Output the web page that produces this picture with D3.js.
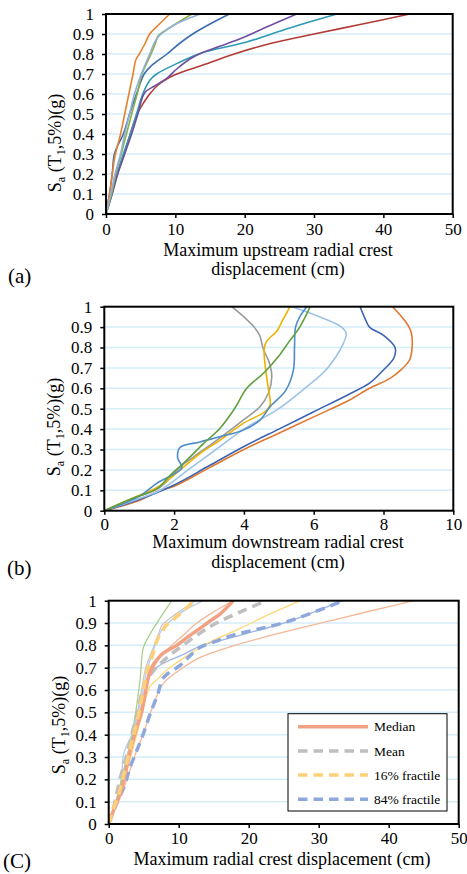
<!DOCTYPE html>
<html>
<head>
<meta charset="utf-8">
<script src="https://cdn.jsdelivr.net/npm/d3@7/dist/d3.min.js"></script>
<style>
  body { margin: 0; background: #fff; }
  svg text { font-family: "Liberation Serif", "Times New Roman", serif; fill: #000; }
</style>
</head>
<body>
<svg id="chart" width="467" height="874"></svg>
<script>
// tick values / labels
var yTicks = [0, 0.1, 0.2, 0.3, 0.4, 0.5, 0.6, 0.7, 0.8, 0.9, 1];
var yTickLabels = ["0", "0.1", "0.2", "0.3", "0.4", "0.5", "0.6", "0.7", "0.8", "0.9", "1"];
var xTicksA = [0, 10, 20, 30, 40, 50];
var xTicksB = [0, 2, 4, 6, 8, 10];
var xTicksC = [0, 10, 20, 30, 40, 50];

// (a) upstream radial crest displacement, [cm, Sa]
var aRed = [[0,0],[0.67,0.1],[1.6,0.2],[2.6,0.3],[3.5,0.4],[4.5,0.5],[5.5,0.56],[6.3,0.6],[7.5,0.645],[9,0.68],[11,0.71],[14,0.745],[18.5,0.8],[24,0.855],[30,0.9],[37,0.95],[43.8,1.0]];
var aTeal = [[0,0],[0.85,0.1],[1.6,0.2],[2.5,0.3],[3.5,0.4],[4.4,0.5],[5.3,0.6],[6.35,0.67],[7.3,0.7],[10.7,0.76],[13.6,0.803],[20.3,0.86],[26.5,0.93],[33.3,1.0]];
var aPurple = [[0,0],[0.9,0.1],[1.7,0.2],[2.7,0.3],[3.7,0.4],[4.6,0.5],[5.6,0.607],[7.0,0.64],[8.75,0.678],[10.2,0.725],[12.1,0.775],[13.6,0.803],[16.5,0.84],[19.8,0.883],[23.5,0.94],[27.5,1.0]];
var aBlue = [[0,0],[0.5,0.1],[0.9,0.2],[1.1,0.28],[1.3,0.31],[1.8,0.35],[2.5,0.4],[3.4,0.5],[4.4,0.6],[5.5,0.7],[6.5,0.74],[8.8,0.8],[10.5,0.85],[12.5,0.9],[15,0.95],[17.8,1.0]];
var aOrange = [[0,0],[0.5,0.1],[0.9,0.2],[1.3,0.29],[2.1,0.4],[2.7,0.5],[3.3,0.6],[3.9,0.7],[4.3,0.77],[4.8,0.8],[5.6,0.85],[6.3,0.9],[7.7,0.95],[9.2,1.0]];
var aGreen = [[0,0],[0.8,0.1],[1.4,0.2],[2.2,0.3],[2.95,0.4],[3.7,0.5],[4.5,0.6],[5.2,0.7],[6.5,0.8],[7.1,0.85],[7.5,0.89],[8.7,0.92],[10.5,0.96],[12.4,1.0]];
var aLightBlue = [[0,0],[0.67,0.1],[1.3,0.2],[2.1,0.3],[2.7,0.4],[3.4,0.5],[4.1,0.6],[5.1,0.7],[6.3,0.8],[7.2,0.87],[7.95,0.9],[10.1,0.95],[13.6,1.0]];

// (b) downstream radial crest displacement
var bOrange = [[0,0],[1,0.05],[1.6,0.1],[2,0.12],[3,0.21],[4,0.3],[5,0.38],[6,0.46],[7,0.54],[7.6,0.6],[8.2,0.65],[8.5,0.69],[8.75,0.74],[8.82,0.8],[8.8,0.87],[8.7,0.91],[8.55,0.945],[8.26,1.0]];
var bBlue = [[0,0],[1,0.055],[2,0.126],[3,0.22],[4,0.315],[5,0.4],[6,0.485],[7,0.57],[7.6,0.625],[8,0.69],[8.3,0.75],[8.33,0.8],[8.0,0.86],[7.6,0.9],[7.45,0.95],[7.33,1.0]];
var bLightBlue = [[0,0],[1,0.06],[1.6,0.1],[2.4,0.2],[3.2,0.3],[4.0,0.4],[5.0,0.5],[5.75,0.6],[6.4,0.7],[6.85,0.82],[6.93,0.87],[6.8,0.9],[6.18,0.95],[5.37,1.0]];
var bMidBlue = [[0,0],[1,0.07],[1.5,0.134],[2.22,0.21],[2.1,0.26],[2.17,0.31],[2.74,0.337],[3.3,0.362],[3.98,0.395],[4.46,0.444],[4.75,0.51],[5.2,0.59],[5.42,0.69],[5.45,0.8],[5.48,0.9],[5.6,0.95],[5.8,1.0]];
var bGreen = [[0,0],[0.8,0.06],[1.5,0.107],[1.93,0.181],[2.36,0.247],[2.84,0.329],[3.31,0.403],[3.74,0.502],[4.08,0.6],[4.56,0.674],[5.03,0.765],[5.3,0.83],[5.6,0.9],[5.9,1.0]];
var bGray = [[0,0],[0.8,0.06],[1.6,0.115],[2.17,0.214],[2.55,0.263],[3.22,0.345],[3.98,0.444],[4.46,0.51],[4.7,0.576],[4.8,0.658],[4.72,0.73],[4.56,0.79],[4.45,0.86],[4.27,0.905],[4.0,0.95],[3.65,1.0]];
var bYellow = [[0,0],[0.8,0.06],[1.6,0.123],[2.27,0.214],[2.74,0.28],[3.31,0.345],[3.98,0.428],[4.6,0.485],[4.75,0.518],[4.7,0.6],[4.65,0.658],[4.58,0.79],[4.65,0.83],[4.94,0.88],[5.1,0.93],[5.32,1.0]];

// (c) individual records (thin) and statistics (thick)
var cSalmon = [[0,0],[1.1,0.09],[2.3,0.175],[3.9,0.32],[4.9,0.4],[6.0,0.5],[7.1,0.59],[7.8,0.63],[9.7,0.68],[13,0.745],[17,0.79],[22.6,0.84],[27,0.875],[32.1,0.913],[37.5,0.955],[43.6,1.0]];
var cTeal = [[0,0],[1.1,0.1],[2.1,0.2],[3.0,0.3],[3.8,0.4],[4.6,0.5],[5.3,0.6],[5.8,0.66],[6.8,0.7],[8.5,0.73],[10.7,0.76],[13.3,0.8],[17,0.83],[20.5,0.86],[25,0.9],[29,0.945],[33.4,1.0]];
var cYellow = [[0,0],[1.2,0.1],[2.4,0.22],[3.4,0.33],[4.4,0.45],[5.2,0.55],[5.9,0.615],[7.0,0.65],[8.3,0.69],[10.3,0.735],[12.1,0.772],[14.5,0.816],[18.8,0.876],[23,0.94],[27.4,1.0]];
var cBlue = [[0,0],[1.0,0.1],[2.0,0.2],[2.6,0.3],[3.5,0.4],[4.4,0.5],[5.2,0.6],[5.7,0.68],[6.3,0.72],[7.6,0.76],[9.0,0.8],[10.8,0.85],[12.6,0.9],[15,0.95],[17.8,1.0]];
var cGray = [[0,0],[0.7,0.07],[1.4,0.13],[2.1,0.22],[2.6,0.3],[3.4,0.4],[4.1,0.5],[4.7,0.6],[5.3,0.7],[6.5,0.8],[7.1,0.85],[7.6,0.89],[8.7,0.92],[10.5,0.96],[12.4,1.0]];
var cLightBlue = [[0,0],[0.7,0.07],[1.4,0.13],[1.9,0.22],[2.0,0.29],[2.3,0.33],[3.3,0.4],[4.2,0.5],[4.9,0.6],[5.4,0.68],[6.3,0.77],[7.6,0.87],[8.5,0.9],[10.5,0.95],[13.5,1.0]];
var cGreen = [[0,0],[1.2,0.12],[2.2,0.25],[3.2,0.37],[3.6,0.45],[4.0,0.53],[4.5,0.65],[4.95,0.79],[5.9,0.85],[7.3,0.92],[9.0,1.0]];

var cMedian = [[0,0],[0.8,0.07],[1.6,0.13],[2.4,0.23],[3.0,0.32],[3.9,0.42],[4.7,0.5],[5.3,0.6],[5.7,0.66],[6.2,0.7],[7.6,0.76],[9.7,0.8],[11.4,0.84],[13.0,0.875],[14.5,0.91],[15.9,0.94],[17.8,1.0]];
var cMean = [[0,0],[0.9,0.1],[1.6,0.2],[2.5,0.3],[3.3,0.4],[4.1,0.5],[4.9,0.6],[6.0,0.67],[6.8,0.7],[8.5,0.75],[10.6,0.8],[12.8,0.85],[15.4,0.9],[18.8,0.95],[22.5,1.0]];
var c16 = [[0,0],[0.7,0.07],[1.4,0.13],[2.0,0.2],[2.4,0.25],[3.3,0.37],[4.0,0.45],[4.5,0.53],[5.0,0.6],[5.4,0.68],[5.9,0.72],[6.4,0.77],[7.0,0.83],[7.6,0.86],[8.2,0.89],[9.0,0.91],[10.5,0.95],[12.2,1.0]];
var c84 = [[0,0],[1.1,0.09],[2.3,0.175],[3.0,0.25],[3.9,0.32],[4.9,0.4],[6.0,0.5],[7.1,0.59],[7.6,0.645],[8.3,0.67],[10.2,0.71],[11.5,0.75],[13.0,0.79],[15.5,0.82],[17.8,0.846],[21.0,0.87],[24.9,0.9],[29,0.945],[33.5,1.0]];

var legendNames = ["Median", "Mean", "16% fractile", "84% fractile"];

var svg = d3.select("#chart");
svg.append("rect").attr("width", 467).attr("height", 874).attr("fill", "#fff");

function drawPanel(p) {
  var x = d3.scaleLinear().domain([0, p.xMax]).range([p.left, p.right]);
  var y = d3.scaleLinear().domain([0, 1]).range([p.bottom, p.top]);
  var g = svg.append("g");

  // horizontal gridlines
  g.selectAll("line.grid").data(yTicks.slice(1, -1)).enter().append("line")
    .attr("x1", p.left).attr("x2", p.right)
    .attr("y1", function(d) { return y(d); }).attr("y2", function(d) { return y(d); })
    .attr("stroke", "#d5edf8").attr("stroke-width", 1.5);

  var line = d3.line()
    .x(function(d) { return x(d[0]); })
    .y(function(d) { return y(d[1]); })
    .curve(d3.curveCatmullRom.alpha(0.5));

  var clipId = "clip" + p.name;
  svg.append("clipPath").attr("id", clipId).append("rect")
    .attr("x", p.left).attr("y", p.top - 2).attr("width", p.right - p.left).attr("height", p.bottom - p.top + 2);

  var lg = g.append("g").attr("clip-path", "url(#" + clipId + ")");
  p.series.forEach(function(s) {
    lg.append("path").datum(s.data)
      .attr("d", line)
      .attr("fill", "none")
      .attr("stroke", s.color)
      .attr("stroke-width", s.width || 1.6)
      .attr("stroke-dasharray", s.dash || null)
      .attr("stroke-linejoin", "round");
  });

  // axes
  var yAxis = d3.axisLeft(y).tickValues(yTicks).tickSize(4).tickPadding(8)
    .tickFormat(function(d, i) { return yTickLabels[i]; });
  var xAxis = d3.axisBottom(x).tickValues(p.xTicks).tickSize(4).tickPadding(p.xPad)
    .tickFormat(function(d) { return String(d); });

  var ya = g.append("g").attr("transform", "translate(" + p.left + ",0)").call(yAxis);
  var xa = g.append("g").attr("transform", "translate(0," + p.bottom + ")").call(xAxis);
  [ya, xa].forEach(function(a) {
    a.select(".domain").remove();
    a.selectAll("line").attr("stroke", "#000").attr("stroke-width", 1.5);
    a.selectAll("text").attr("font-size", 17).attr("font-family", "Liberation Serif");
  });

  // frame
  g.append("rect").attr("x", p.left).attr("y", p.top)
    .attr("width", p.right - p.left).attr("height", p.bottom - p.top)
    .attr("fill", "none").attr("stroke", "#000").attr("stroke-width", 2);

  // y label
  var yl = g.append("text")
    .attr("transform", "translate(" + p.ylabX + "," + p.ylabY + ") rotate(-90)")
    .attr("text-anchor", "middle").attr("font-size", 18);
  yl.append("tspan").text("S");
  yl.append("tspan").attr("font-size", 12).attr("dy", 4).text("a");
  yl.append("tspan").attr("dy", -4).text(" (T");
  yl.append("tspan").attr("font-size", 12).attr("dy", 4).text("1");
  yl.append("tspan").attr("dy", -4).text(",5%)(g)");

  // x title
  p.xTitle.forEach(function(t, i) {
    g.append("text").attr("x", p.titleX).attr("y", p.titleY[i])
      .attr("text-anchor", "middle").attr("font-size", 18).text(t);
  });

  g.append("text").attr("x", p.tagX).attr("y", p.tagY).attr("font-size", 21).text(p.tag);
  return { x: x, y: y, g: g };
}

drawPanel({
  name: "a", left: 106, right: 452.7, top: 14, bottom: 214, xMax: 50, xTicks: xTicksA, xPad: 5,
  ylabX: 61, ylabY: 143,
  xTitle: ["Maximum upstream radial crest", "displacement (cm)"], titleX: 278, titleY: [256, 275],
  tag: "(a)", tagX: 8, tagY: 283,
  series: [
    { data: aRed, color: "#b33c36" },
    { data: aTeal, color: "#2e9bb5" },
    { data: aPurple, color: "#7150a0" },
    { data: aBlue, color: "#3c6dae" },
    { data: aOrange, color: "#e9802d" },
    { data: aGreen, color: "#8db042" },
    { data: aLightBlue, color: "#92aedb" }
  ]
});

drawPanel({
  name: "b", left: 104.3, right: 453.3, top: 306.7, bottom: 510.7, xMax: 10, xTicks: xTicksB, xPad: 3,
  ylabX: 60, ylabY: 427,
  xTitle: ["Maximum downstream radial crest", "displacement (cm)"], titleX: 278, titleY: [548, 568],
  tag: "(b)", tagX: 7, tagY: 575,
  series: [
    { data: bOrange, color: "#e2772e" },
    { data: bBlue, color: "#3c64b1" },
    { data: bLightBlue, color: "#9dc3e6" },
    { data: bGray, color: "#9a9a9a" },
    { data: bYellow, color: "#edb100" },
    { data: bMidBlue, color: "#4e8cc9" },
    { data: bGreen, color: "#62a03e" }
  ]
});

var pc = drawPanel({
  name: "c", left: 108.7, right: 458.7, top: 600.7, bottom: 824, xMax: 50, xTicks: xTicksC, xPad: 4,
  ylabX: 65, ylabY: 725,
  xTitle: ["Maximum radial crest displacement (cm)"], titleX: 282, titleY: [865],
  tag: "(C)", tagX: 3, tagY: 868,
  series: [
    { data: cSalmon, color: "#f4b898", width: 1.3 },
    { data: cTeal, color: "#9db5e0", width: 1.3 },
    { data: cYellow, color: "#ffd97a", width: 1.3 },
    { data: cBlue, color: "#f4b898", width: 1.3 },
    { data: cGray, color: "#c8c8c8", width: 1.3 },
    { data: cLightBlue, color: "#b4cdea", width: 1.3 },
    { data: cGreen, color: "#a9cf8e", width: 1.3 },
    { data: c84, color: "#8ea7dd", width: 3.5, dash: "9.5,6" },
    { data: cMean, color: "#bfbfbf", width: 3.5, dash: "9.5,6" },
    { data: cMedian, color: "#f2a283", width: 3.5 },
    { data: c16, color: "#ffd07a", width: 3.5, dash: "9.5,6" }
  ]
});

// legend for (c)
var legendStyles = [
  { color: "#f2a283", dash: null },
  { color: "#bfbfbf", dash: "9.5,6" },
  { color: "#ffd07a", dash: "9.5,6" },
  { color: "#8ea7dd", dash: "9.5,6" }
];
var lgd = pc.g.append("g");
lgd.append("rect").attr("x", 288).attr("y", 713.7).attr("width", 159).attr("height", 97.3)
  .attr("fill", "#fff").attr("stroke", "#000").attr("stroke-width", 1);
legendNames.forEach(function(n, i) {
  var yy = 726.7 + i * 24.2;
  lgd.append("line").attr("x1", 298).attr("x2", 368).attr("y1", yy).attr("y2", yy)
    .attr("stroke", legendStyles[i].color).attr("stroke-width", 3.5)
    .attr("stroke-dasharray", legendStyles[i].dash);
  lgd.append("text").attr("x", 374).attr("y", yy).attr("dy", "0.35em")
    .attr("font-size", 13.5).text(n);
});
</script>
</body>
</html>
